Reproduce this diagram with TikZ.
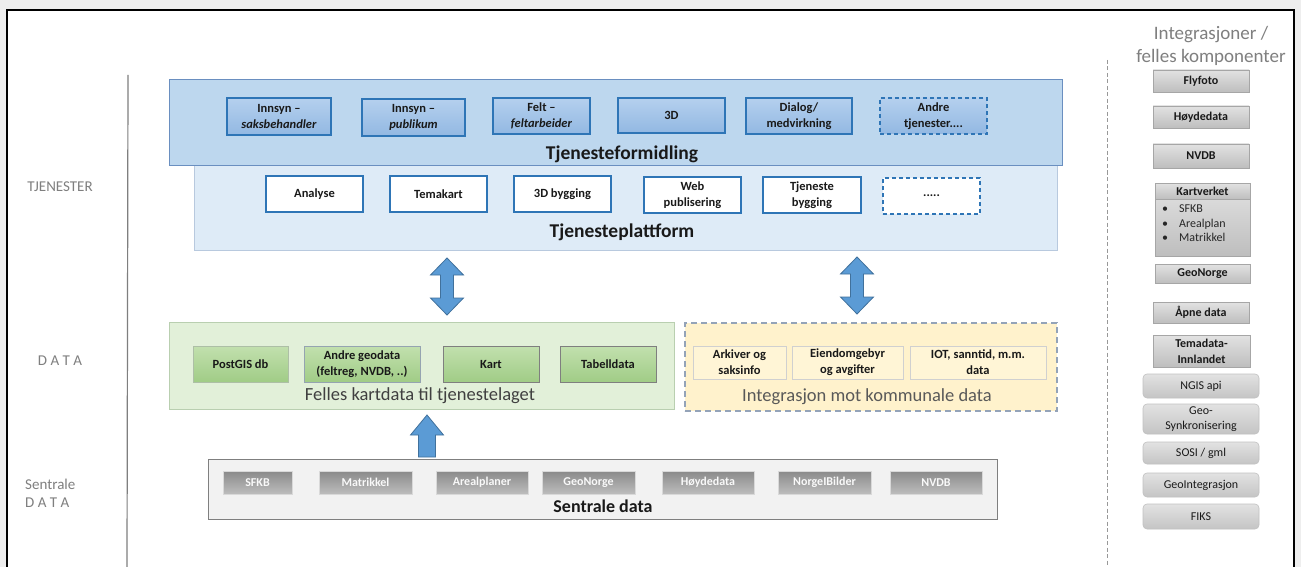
\documentclass[tikz,border=0pt]{standalone}
\usepackage{fontspec}
\setmainfont{Carlito}
\usetikzlibrary{calc}
\definecolor{bgout}{HTML}{EEEEEE}
\definecolor{tfcol}{HTML}{BDD7EE}
\definecolor{tfborder}{HTML}{6A8FC0}
\definecolor{tpcol}{HTML}{DEEBF7}
\definecolor{tpborder}{HTML}{B8C9DE}
\definecolor{blueA}{HTML}{2E75B6}
\definecolor{topT}{HTML}{B5D0EE}
\definecolor{topB}{HTML}{92B8E2}
\definecolor{grcont}{HTML}{E2F0D9}
\definecolor{grborder}{HTML}{B9CFB0}
\definecolor{grT}{HTML}{C2E0AE}
\definecolor{grB}{HTML}{A0CC86}
\definecolor{yelcol}{HTML}{FFF2CC}
\definecolor{yelborder}{HTML}{94A3B8}
\definecolor{yelinner}{HTML}{D0D0D0}
\definecolor{arrfill}{HTML}{5B9BD5}
\definecolor{arrdraw}{HTML}{41719C}
\definecolor{sdcol}{HTML}{F2F2F2}
\definecolor{sdborder}{HTML}{7F7F7F}
\definecolor{sgT}{HTML}{8A8A8A}
\definecolor{sgB}{HTML}{BDBDBD}
\definecolor{rgT}{HTML}{E2E2E2}
\definecolor{rgB}{HTML}{BEBEBE}
\definecolor{rgborder}{HTML}{A6A6A6}
\definecolor{labgray}{HTML}{7F7F7F}
\newcommand\mybox[7]{\node[#1, minimum width={(#5)-(#3)}, minimum height={(#6)-(#4)}] (#2) at ({((#3)+(#5))/2},{((#4)+(#6))/2}) {#7};}
\tikzset{
  allbox/.style={inner sep=0pt, align=center, font=\fontsize{12.5}{16}\selectfont\bfseries, text=black!90},
  tfbox/.style={draw=tfborder, fill=tfcol, line width=1pt},
  tpbox/.style={draw=tpborder, fill=tpcol, line width=1pt},
  topbox/.style={allbox, draw=blueA, top color=topT, bottom color=topB, line width=1.3pt},
  platbox/.style={allbox, draw=blueA, fill=white, line width=1.3pt},
  grcontbox/.style={draw=grborder, fill=grcont, line width=1pt},
  grbox/.style={allbox, top color=grT, bottom color=grB, line width=1pt},
  yelcontbox/.style={draw=yelborder, fill=yelcol, line width=1.3pt, dash pattern=on 6pt off 4pt},
  yelbox/.style={allbox, draw=yelinner, fill=yelcol!80!white, line width=1pt},
  sdbox/.style={draw=sdborder, fill=sdcol, line width=1pt},
  sgbox/.style={allbox, draw=white!70!gray, top color=sgT, bottom color=sgB, line width=0.6pt, text=white!95!gray, font=\fontsize{12}{14}\selectfont\bfseries},
  rbox/.style={allbox, draw=rgborder, top color=rgT, bottom color=rgB, line width=0.6pt, font=\fontsize{12}{16}\selectfont\bfseries},
  rrbox/.style={allbox, draw=rgborder!70!white, top color=rgT, bottom color=rgB!90!white, line width=0.6pt, rounded corners=4pt, font=\fontsize{12}{15}\selectfont},
  lbl/.style={text=labgray, font=\fontsize{15}{18}\selectfont, inner sep=0pt},
  barrow/.style={fill=arrfill, draw=arrdraw, line width=0.8pt, line join=miter},
  biglbl/.style={inner sep=0pt, font=\fontsize{19.5}{22}\selectfont\bfseries, text=black!90},
  midlbl/.style={inner sep=0pt, font=\fontsize{18.5}{22}\selectfont},
}
\begin{document}
\begin{tikzpicture}[x=1pt,y=-1pt]
\useasboundingbox (0,0) rectangle (1301,567);
\fill[bgout] (0,0) rectangle (1301,567);
\fill[white] (7,10) rectangle (1294,567);
\draw[black, line width=2pt] (7,570) -- (7,10) -- (1294,10) -- (1294,570);

% side lines
\draw[labgray, line width=1.2pt] (128,75) -- (127,567);
\draw[labgray!80, line width=1pt, dash pattern=on 4pt off 2.5pt] (1107,60) -- (1107,567);

% left labels
\node[lbl] (ltj) at (60,187) {TJENESTER};
\node[lbl] (ldata) at (60,361) {D A T A};
\node[lbl, anchor=west] (lsent) at (25,484) {Sentrale};
\node[lbl, anchor=west] (lsdata) at (25,503) {D A T A};

% right title
\node[midlbl, text=labgray, font=\fontsize{19}{22}\selectfont] (rt1) at (1211,35) {Integrasjoner /};
\node[midlbl, text=labgray, font=\fontsize{19}{22}\selectfont] (rt2) at (1211,57) {felles komponenter};

% containers top
\mybox{tpbox}{tp}{194}{165}{1057}{250}{}
\mybox{tfbox}{tf}{169}{80}{1062}{165}{}
\node[biglbl] (tflbl) at (622,154) {Tjenesteformidling};
\node[biglbl] (tplbl) at (622,232) {Tjenesteplattform};

% top boxes
\mybox{topbox}{t1}{227}{98}{331}{135}{Innsyn –\\\textit{saksbehandler}}
\mybox{topbox}{t2}{362}{99}{465}{136}{Innsyn –\\\textit{publikum}}
\mybox{topbox}{t3}{493}{98}{590}{134}{Felt –\\\textit{feltarbeider}}
\mybox{topbox}{t4}{618}{98}{725}{133}{3D}
\mybox{topbox}{t5}{746}{98}{852}{134}{Dialog/\\medvirkning}
\mybox{topbox, dash pattern=on 4pt off 3pt}{t6}{880}{98}{987}{134}{Andre\\tjenester....}

% platform boxes
\mybox{platbox}{p1}{266}{176}{363}{212}{Analyse}
\mybox{platbox}{p2}{390}{176}{487}{212}{Temakart}
\mybox{platbox}{p3}{514}{176}{611}{212}{3D bygging}
\mybox{platbox}{p4}{644}{177}{741}{213}{Web\\publisering}
\mybox{platbox}{p5}{763}{177}{861}{213}{Tjeneste\\bygging}
\mybox{platbox, dash pattern=on 4pt off 3pt}{p6}{883}{178}{980}{214}{.....}

% double arrows
\filldraw[barrow] (447,258) -- ++(16.5,17) -- ++(-10,0) -- ++(0,23) -- ++(10,0) -- ++(-16.5,17) -- ++(-16.5,-17) -- ++(10,0) -- ++(0,-23) -- ++(-10,0) -- cycle;
\filldraw[barrow] (857,257) -- ++(16.5,17) -- ++(-10,0) -- ++(0,23) -- ++(10,0) -- ++(-16.5,17) -- ++(-16.5,-17) -- ++(10,0) -- ++(0,-23) -- ++(-10,0) -- cycle;

% data containers
\mybox{grcontbox}{gc}{169}{322}{674}{409}{}
\mybox{yelcontbox}{yc}{685}{323}{1057}{411}{}
\node[midlbl, text=black!75] (gclbl) at (420,396) {Felles kartdata til tjenestelaget};
\node[midlbl, text=black!65] (yclbl) at (867,397) {Integrasjon mot kommunale data};

\mybox{grbox, draw=grborder!80!gray}{g1}{193}{346}{288}{382}{PostGIS db}
\mybox{grbox, draw=blueA!30!gray!70}{g2}{304}{346}{420}{382}{Andre geodata\\(feltreg, NVDB, ..)}
\mybox{grbox, draw=sdborder}{g3}{443}{346}{539}{382}{Kart}
\mybox{grbox, draw=sdborder}{g4}{560}{346}{656}{382}{Tabelldata}

\mybox{yelbox}{y1}{693}{346}{786}{379}{Arkiver og\\saksinfo}
\mybox{yelbox}{y2}{792}{346}{903}{379}{Eiendomgebyr\\og avgifter}
\mybox{yelbox}{y3}{910}{346}{1046}{379}{IOT, sanntid, m.m.\\data}

% up arrow
\filldraw[barrow] (427,415) -- ++(16.5,20) -- ++(-8,0) -- ++(0,22) -- ++(-17,0) -- ++(0,-22) -- ++(-8,0) -- cycle;

% sentrale data
\mybox{sdbox}{sd}{208}{459}{997}{519}{}
\node[biglbl, font=\fontsize{18}{22}\selectfont\bfseries] (sdlbl) at (603,506) {Sentrale data};
\mybox{sgbox}{s1}{223}{471}{292}{494}{SFKB}
\mybox{sgbox}{s2}{319}{471}{412}{494}{Matrikkel}
\mybox{sgbox}{s3}{436}{471}{528}{494}{Arealplaner}
\mybox{sgbox}{s4}{542}{471}{635}{494}{GeoNorge}
\mybox{sgbox}{s5}{662}{471}{754}{494}{Høydedata}
\mybox{sgbox}{s6}{778}{471}{871}{494}{NorgeIBilder}
\mybox{sgbox}{s7}{890}{471}{982}{494}{NVDB}

% right column
\mybox{rbox}{r1}{1153}{70}{1249}{92}{Flyfoto}
\mybox{rbox}{r2}{1153}{106}{1249}{128}{Høydedata}
\mybox{rbox}{r3}{1153}{144}{1249}{168}{NVDB}
\mybox{rbox}{r4b}{1155}{183}{1250}{256}{}
\mybox{rbox}{r4}{1155}{183}{1250}{199}{Kartverket}
\node[anchor=north west, inner sep=0pt, align=left, font=\fontsize{12}{14.5}\selectfont, text=black!85] (r4l) at (1162,205) {\textbullet\hspace{11pt}SFKB\\\textbullet\hspace{11pt}Arealplan\\\textbullet\hspace{11pt}Matrikkel};
\mybox{rbox}{r5}{1155}{264}{1250}{283}{GeoNorge}
\mybox{rbox}{r6}{1153}{302}{1249}{323}{Åpne data}
\mybox{rbox}{r7}{1153}{335}{1250}{367}{Temadata-\\Innlandet}
\mybox{rrbox}{r8}{1143}{374}{1259}{398}{NGIS api}
\mybox{rrbox}{r9}{1143}{404}{1259}{434}{Geo-\\Synkronisering}
\mybox{rrbox}{r10}{1143}{442}{1259}{464}{SOSI / gml}
\mybox{rrbox}{r11}{1143}{473}{1259}{497}{GeoIntegrasjon}
\mybox{rrbox}{r12}{1143}{504}{1259}{529}{FIKS}
\end{tikzpicture}
\end{document}
